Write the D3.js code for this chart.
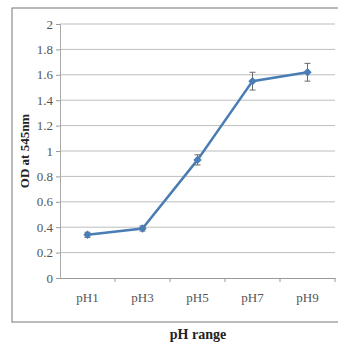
<!DOCTYPE html>
<html>
<head>
<meta charset="utf-8">
<script src="https://cdn.jsdelivr.net/npm/d3@7"></script>
<style>
  body { margin: 0; background: #fff; }
  svg { display: block; }
</style>
</head>
<body>
<svg id="chart" width="338" height="345"></svg>
<script>
// data
const categories = ["pH1", "pH3", "pH5", "pH7", "pH9"];
const odValues = [0.34, 0.39, 0.93, 1.55, 1.62];
const errValues = [0.02, 0.02, 0.04, 0.07, 0.07];
const yTicks = [0, 0.2, 0.4, 0.6, 0.8, 1, 1.2, 1.4, 1.6, 1.8, 2];

const svg = d3.select("#chart");
const margin = { top: 24, right: 3, bottom: 67, left: 60 };
const width = 338 - margin.left - margin.right;
const height = 345 - margin.top - margin.bottom;

// outer frame
svg.append("rect")
    .attr("x", 12).attr("y", 8)
    .attr("width", 340).attr("height", 314)
    .attr("fill", "none")
    .attr("stroke", "#777")
    .attr("stroke-width", 1);

const g = svg.append("g").attr("transform", `translate(${margin.left},${margin.top})`);

const x = d3.scaleBand().domain(categories).range([0, width]);
const y = d3.scaleLinear().domain([0, 2]).range([height, 0]);

// gridlines
g.selectAll(".grid")
    .data(yTicks.slice(1))
    .join("line")
    .attr("x1", 0).attr("x2", width)
    .attr("y1", d => y(d)).attr("y2", d => y(d))
    .attr("stroke", "#bdbdbd")
    .attr("stroke-width", 1);

// y axis
const yAxis = g.append("g")
    .call(d3.axisLeft(y).tickValues(yTicks).tickFormat(d3.format("")).tickSize(4).tickPadding(3));
yAxis.select(".domain").attr("stroke", "#aaa");
yAxis.selectAll(".tick line").attr("stroke", "#999");
yAxis.selectAll("text")
    .attr("font-family", "Liberation Serif")
    .attr("font-size", 13)
    .attr("fill", "#555");

// x axis with ticks on category boundaries
const xAxis = g.append("g")
    .attr("transform", `translate(0,${height})`)
    .call(d3.axisBottom(x).tickSize(0).tickPadding(15));
xAxis.select(".domain").attr("stroke", "#999");
xAxis.selectAll("text")
    .attr("font-family", "Liberation Serif")
    .attr("font-size", 13)
    .attr("fill", "#555");
g.selectAll(".xtick")
    .data(categories)
    .join("line")
    .attr("x1", d => x(d) + x.bandwidth()).attr("x2", d => x(d) + x.bandwidth())
    .attr("y1", height).attr("y2", height + 4)
    .attr("stroke", "#999");

const cx = d => x(d) + x.bandwidth() / 2;
const pts = categories.map((c, i) => ({ c, v: odValues[i], e: errValues[i] }));

// line
g.append("path")
    .datum(pts)
    .attr("fill", "none")
    .attr("stroke", "#4a7db4")
    .attr("stroke-width", 2.5)
    .attr("d", d3.line().x(d => cx(d.c)).y(d => y(d.v)));

// error bars
const err = g.selectAll(".err").data(pts).join("g").attr("stroke", "#6a6a6a").attr("stroke-width", 1);
err.append("line")
    .attr("x1", d => cx(d.c)).attr("x2", d => cx(d.c))
    .attr("y1", d => y(d.v + d.e)).attr("y2", d => y(d.v - d.e));
err.append("line")
    .attr("x1", d => cx(d.c) - 3).attr("x2", d => cx(d.c) + 3)
    .attr("y1", d => y(d.v + d.e)).attr("y2", d => y(d.v + d.e));
err.append("line")
    .attr("x1", d => cx(d.c) - 3).attr("x2", d => cx(d.c) + 3)
    .attr("y1", d => y(d.v - d.e)).attr("y2", d => y(d.v - d.e));

// diamond markers
g.selectAll(".pt")
    .data(pts)
    .join("path")
    .attr("transform", d => `translate(${cx(d.c)},${y(d.v)})`)
    .attr("d", d3.symbol(d3.symbolDiamond2, 45))
    .attr("fill", "#4a7db4");

// axis titles
svg.append("text")
    .attr("transform", `translate(29,${margin.top + height / 2}) rotate(-90)`)
    .attr("text-anchor", "middle")
    .attr("font-family", "Liberation Serif")
    .attr("font-weight", "bold")
    .attr("font-size", 13)
    .attr("fill", "#222")
    .text("OD at 545nm");

svg.append("text")
    .attr("x", 198).attr("y", 339)
    .attr("text-anchor", "middle")
    .attr("font-family", "Liberation Serif")
    .attr("font-weight", "bold")
    .attr("font-size", 14)
    .attr("fill", "#222")
    .text("pH range");
</script>
</body>
</html>
